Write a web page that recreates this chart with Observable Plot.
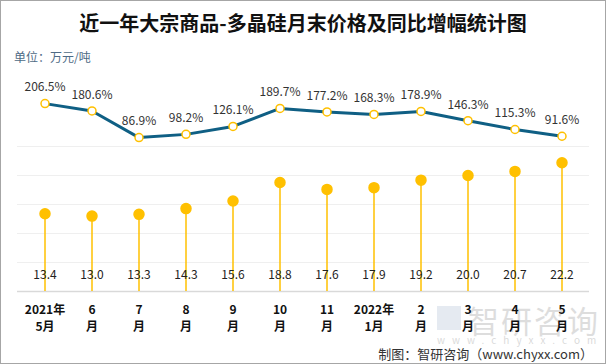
<!DOCTYPE html>
<html><head><meta charset="utf-8">
<script src="https://cdn.jsdelivr.net/npm/d3@7"></script>
<script src="https://cdn.jsdelivr.net/npm/@observablehq/plot@0.6"></script>
<style>
body{margin:0;background:#fff;font-family:"Noto Sans CJK SC","Noto Sans",sans-serif;}
#box{position:relative;width:606px;height:364px;box-sizing:border-box;border:1px solid #a6a6a6;background:#fff;overflow:hidden;}
#chart{position:absolute;left:0;top:0;}
.t{position:absolute;white-space:nowrap;}
</style></head><body>
<div id="box">
<div id="chart"></div>
<div class="t" style="left:0;width:604px;top:7px;text-align:center;font-size:20px;font-weight:bold;color:#111;">近一年大宗商品-多晶硅月末价格及同比增幅统计图</div>
<div class="t" style="left:13px;top:47px;font-size:12px;color:#4e6b85;">单位：万元/吨</div>
<div style="position:absolute;left:436px;top:305px;width:24px;height:24px;background:#6d8bb3;opacity:0.18;"></div>
<div class="t" style="left:467px;top:296px;font-size:31px;color:#000;opacity:0.13;letter-spacing:2px;">智研咨询</div>
<div class="t" style="left:436px;top:331px;font-size:10px;color:#000;opacity:0.15;letter-spacing:7px;">www.chyxx.com</div>
<div class="t" style="right:12px;top:343px;font-size:13px;color:#333;">制图：智研咨询（www.chyxx.com）</div>
</div>
<script>
const categories = ["2021年\n5月","6\n月","7\n月","8\n月","9\n月","10\n月","11\n月","2022年\n1月","2\n月","3\n月","4\n月","5\n月"];
const prices = [13.4,13.0,13.3,14.3,15.6,18.8,17.6,17.9,19.2,20.0,20.7,22.2];
const yoy = [206.5,180.6,86.9,98.2,126.1,189.7,177.2,168.3,178.9,146.3,115.3,91.6];
const gridTicks = [5,10,15,20,25];

const data = categories.map((c,i)=>({c, p:prices[i], r:yoy[i]}));
const y2 = d3.scaleLinear().domain([-455,566]).range([0,50]);
const font = "Noto Sans CJK SC";

const chart = Plot.plot({
  width:604, height:362,
  marginLeft:16, marginRight:16, marginTop:0, marginBottom:72,
  style:{fontFamily:font, background:"transparent"},
  x:{type:"band", domain:categories, padding:0, axis:null},
  y:{domain:[0,50], axis:null},
  marks:[
    Plot.ruleY(gridTicks,{stroke:"#efefef", strokeWidth:1}),
    Plot.ruleY([0],{stroke:"#d9d9d9", strokeWidth:1.5}),
    Plot.ruleX(data,{x:"c", y1:0, y2:"p", stroke:"#ffc000", strokeWidth:1.5}),
    Plot.dot(data,{x:"c", y:"p", r:5, fill:"#ffc000", stroke:"#ffc000"}),
    Plot.text(data,{x:"c", text:d=>d.p.toFixed(1), frameAnchor:"bottom", dy:-13, fontSize:12, fill:"#222"}),
    Plot.line(data,{x:"c", y:d=>y2(d.r), stroke:"#0f5f84", strokeWidth:3}),
    Plot.dot(data,{x:"c", y:d=>y2(d.r), r:4, fill:"#fff", stroke:"#ffc000", strokeWidth:1.5}),
    Plot.text(data,{x:"c", y:d=>y2(d.r), text:d=>d.r.toFixed(1)+"%", dy:-16, fontSize:12, fill:"#333"}),
    Plot.text(data,{x:"c", text:"c", frameAnchor:"bottom", lineAnchor:"top", dy:10, lineHeight:1.45, fontSize:12, fontWeight:"bold", fill:"#111"})
  ]
});
document.getElementById("chart").appendChild(chart);
</script>
</body></html>
